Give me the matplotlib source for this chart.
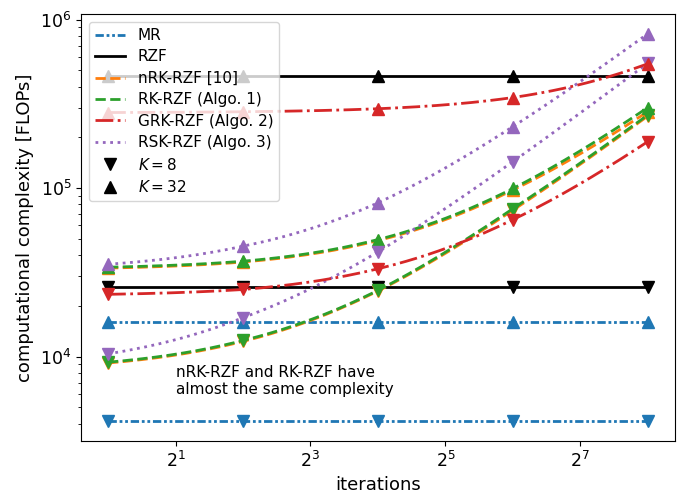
import numpy as np
import matplotlib
matplotlib.use('Agg')
import matplotlib.pyplot as plt
from matplotlib.path import Path
from matplotlib.lines import Line2D
from matplotlib.ticker import FixedLocator, LogFormatterSciNotation, NullLocator

# ---------------- data ----------------
iterations = [1, 4, 16, 64, 256]

mr_k8 = [4120, 4120, 4120, 4120, 4120]
mr_k32 = [16100, 16100, 16100, 16100, 16100]
rzf_k8 = [25900, 25900, 25900, 25900, 25900]
rzf_k32 = [460000, 460000, 460000, 460000, 460000]
nrk_k8 = [9150, 12300, 24500, 74000, 268000]
nrk_k32 = [33500, 36400, 48800, 97500, 285000]
rk_k8 = [9250, 12450, 24700, 75500, 272000]
rk_k32 = [33900, 36800, 49500, 99500, 301000]
rsk_k8 = [10370, 17000, 41800, 143600, 552000]
rsk_k32 = [35300, 45200, 81800, 232000, 826000]
grk_k8 = [23400, 25000, 33200, 65000, 189000]
grk_k32 = [281000, 284000, 296000, 345000, 548000]

labels = ["MR", "RZF", "nRK-RZF [10]", "RK-RZF (Algo. 1)",
          "GRK-RZF (Algo. 2)", "RSK-RZF (Algo. 3)"]
k_labels = [r"$K = 8$", r"$K = 32$"]
xlabel = "iterations"
ylabel = "computational complexity [FLOPs]"
note = "nRK-RZF and RK-RZF have\nalmost the same complexity"

# ---------------- styles ----------------
styles = {
    "MR": dict(color="#1f77b4", ls=(0, (3, 1, 1, 1, 1, 1))),
    "RZF": dict(color="black", ls="-"),
    "nRK-RZF [10]": dict(color="#ff7f0e", ls="--"),
    "RK-RZF (Algo. 1)": dict(color="#2ca02c", ls="--"),
    "GRK-RZF (Algo. 2)": dict(color="#d62728", ls="-."),
    "RSK-RZF (Algo. 3)": dict(color="#9467bd", ls=":"),
}
LW = 2.0
MS = 8

fig = plt.figure(figsize=(6.81, 4.93), dpi=100)
ax = fig.add_axes([0.119, 0.106, 0.872, 0.865])
ax.set_xscale("log", base=2)
ax.set_yscale("log")


def curve(x, y, steps=80):
    # line between the data points, drawn linearly in data space
    p = Path(np.column_stack([x, y])).interpolated(steps)
    return p.vertices[:, 0], p.vertices[:, 1]


def draw(name, y8, y32):
    st = styles[name]
    for y, mk in ((y8, "v"), (y32, "^")):
        cx, cy = curve(iterations, y)
        ax.plot(cx, cy, color=st["color"], ls=st["ls"], lw=LW)
        ax.plot(iterations, y, ls="none", marker=mk, ms=MS, color=st["color"])


draw("MR", mr_k8, mr_k32)
draw("RZF", rzf_k8, rzf_k32)
draw("nRK-RZF [10]", nrk_k8, nrk_k32)
draw("RK-RZF (Algo. 1)", rk_k8, rk_k32)
draw("RSK-RZF (Algo. 3)", rsk_k8, rsk_k32)
draw("GRK-RZF (Algo. 2)", grk_k8, grk_k32)

ax.xaxis.set_major_locator(FixedLocator([2, 8, 32, 128]))
ax.xaxis.set_major_formatter(LogFormatterSciNotation(base=2))
ax.xaxis.set_minor_locator(NullLocator())
ax.tick_params(labelsize=12.5)

ax.set_xlabel(xlabel, fontsize=13)
ax.set_ylabel(ylabel, fontsize=13)

ax.text(0.16, 0.178, note, transform=ax.transAxes, fontsize=11, va="top")

handles = [Line2D([], [], color=styles[l]["color"], ls=styles[l]["ls"], lw=LW)
           for l in labels]
handles += [Line2D([], [], ls="none", marker="v", ms=MS, color="black"),
            Line2D([], [], ls="none", marker="^", ms=MS, color="black")]
ax.legend(handles, labels + k_labels, loc="upper left", fontsize=11,
          labelspacing=0.42)

fig.savefig("out.png", dpi=100)
